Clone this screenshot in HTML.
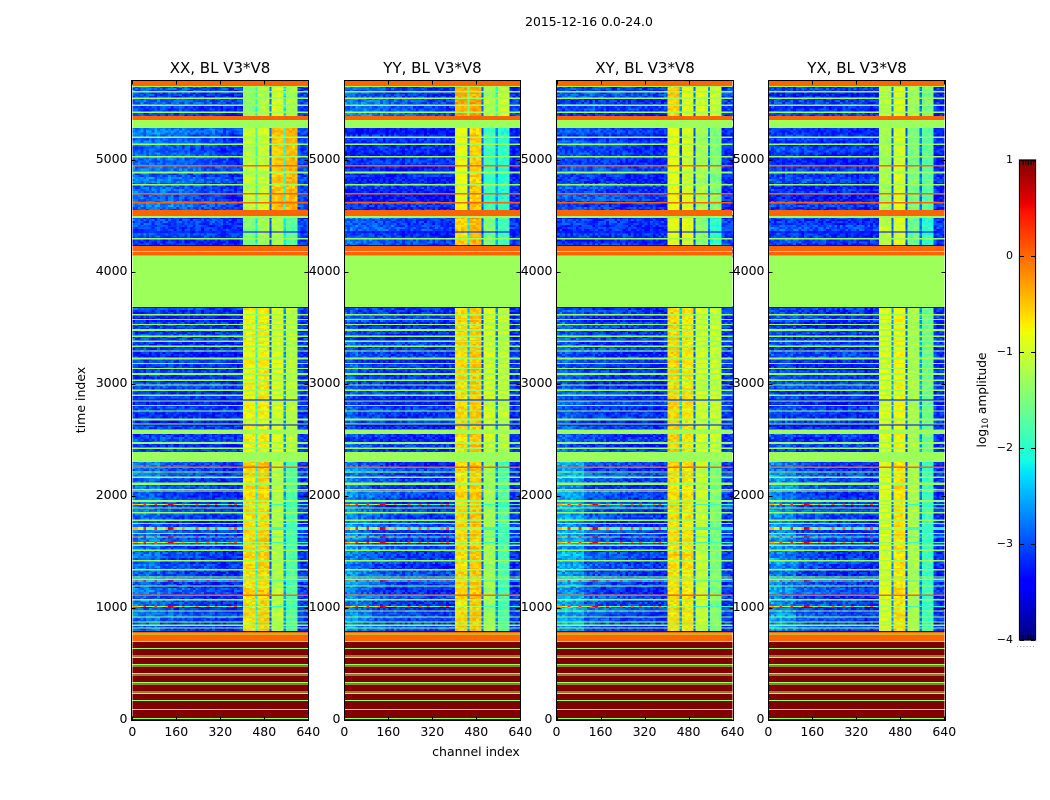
<!DOCTYPE html>
<html lang="en">
<head>
<meta charset="utf-8">
<title>2015-12-16 0.0-24.0 waterfall amplitude, BL V3*V8</title>
<style>
  html, body { margin: 0; padding: 0; background: #fff; }
  #figure { display: block; width: 1050px; height: 800px; font-family: "DejaVu Sans", "Liberation Sans", sans-serif; fill: #000; }
</style>
</head>
<body>
<svg id="figure" xmlns="http://www.w3.org/2000/svg" width="1050" height="800" viewBox="0 0 1050 800">
  <rect width="1050" height="800" fill="#fff"/>
  <text x="589" y="26" font-size="12.4" text-anchor="middle">2015-12-16 0.0-24.0</text>
  <text x="476" y="756" font-size="12.5" text-anchor="middle">channel index</text>
  <text transform="translate(85,400) rotate(-90)" font-size="12.5" text-anchor="middle">time index</text>
  <text transform="translate(986,400) rotate(-90)" font-size="12.2" text-anchor="middle">log<tspan font-size="8.5" dy="2">10</tspan><tspan dy="-2"> amplitude</tspan></text>
  <g id="panels"></g>
  <g id="colorbar"></g>
</svg>
<script>
// ---- Chart data (values are log10 amplitude; times are time index, channels are channel index) ----
const panelTitles = ["XX, BL V3*V8", "YY, BL V3*V8", "XY, BL V3*V8", "YX, BL V3*V8"];
const xTicks = [0, 160, 320, 480, 640];
const yTicks = [0, 1000, 2000, 3000, 4000, 5000];
const colorbarTicks = [1, 0, -1, -2, -3, -4];

// Time floor of each observing section, top to bottom.
const sectionFloors = [5356, 4481, 3686, 2305, 785];

// Low-channel levels, one value per 50 channels.
const leftXX = [
  [-2.95,-2.95,-3.0,-3.0,-3.05,-3.05,-3.1,-3.15],
  [-2.85,-2.85,-2.85,-2.9,-2.95,-3.0,-3.05,-3.15],
  [-3.05,-3.1,-3.1,-3.15,-3.15,-3.15,-3.15,-3.2],
  [-3.1,-3.1,-3.1,-3.15,-3.15,-3.15,-3.15,-3.2],
  [-2.85,-2.85,-3.0,-3.05,-3.1,-3.1,-3.15,-3.15]
];
const leftYY = [
  [-2.8,-2.85,-2.9,-2.95,-3.0,-3.05,-3.1,-3.15],
  [-3.2,-3.2,-3.2,-3.2,-3.2,-3.2,-3.2,-3.25],
  [-2.85,-2.9,-2.95,-3.0,-3.05,-3.05,-3.1,-3.15],
  [-2.95,-3.1,-3.1,-3.15,-3.15,-3.15,-3.15,-3.2],
  [-2.7,-2.85,-3.0,-3.05,-3.1,-3.1,-3.15,-3.15]
];
const leftXY = [
  [-3.05,-3.05,-3.05,-3.1,-3.1,-3.1,-3.15,-3.15],
  [-3.0,-3.0,-3.05,-3.05,-3.1,-3.15,-3.15,-3.2],
  [-3.15,-3.15,-3.15,-3.15,-3.15,-3.2,-3.2,-3.2],
  [-2.9,-3.0,-3.1,-3.1,-3.15,-3.15,-3.15,-3.2],
  [-2.55,-2.6,-2.95,-3.0,-3.05,-3.1,-3.1,-3.15]
];
const leftYX = [
  [-3.1,-3.1,-3.1,-3.1,-3.15,-3.15,-3.15,-3.2],
  [-3.1,-3.1,-3.1,-3.15,-3.15,-3.15,-3.2,-3.2],
  [-3.0,-3.0,-3.05,-3.05,-3.1,-3.1,-3.15,-3.15],
  [-3.05,-3.05,-3.1,-3.1,-3.15,-3.15,-3.15,-3.2],
  [-2.65,-2.75,-2.95,-3.0,-3.05,-3.1,-3.1,-3.15]
];

// Upper-channel strips: left edge of each strip, then its level per section.
const stripEdges = [403, 448, 456, 499, 506, 550, 558, 600, 640];
const stripXX = [
  [-1.4,-2.0,-1.15,-2.8,-0.95,-2.2,-1.25,-3.1],
  [-1.1,-1.9,-1.05,-2.9,-0.5,-2.0,-0.45,-3.05],
  [-1.5,-2.2,-1.3,-3.0,-1.2,-2.2,-1.75,-3.1],
  [-0.75,-2.0,-0.7,-2.9,-0.95,-2.6,-1.15,-3.15],
  [-0.6,-2.1,-0.55,-2.9,-1.15,-2.6,-1.8,-3.15]
];
const stripYY = [
  [-0.35,-1.5,-0.35,-2.9,-1.25,-2.0,-1.0,-3.1],
  [-0.85,-2.9,-0.55,-3.0,-1.9,-2.6,-2.0,-3.2],
  [-0.55,-2.2,-0.4,-2.9,-1.5,-2.6,-1.85,-3.1],
  [-0.6,-2.4,-0.5,-3.0,-1.0,-2.7,-1.1,-3.15],
  [-0.6,-2.6,-0.5,-2.9,-1.3,-2.7,-1.8,-3.15]
];
const stripXY = [
  [-0.55,-2.6,-0.9,-2.9,-1.0,-2.8,-1.05,-3.1],
  [-0.85,-3.0,-1.0,-3.0,-1.25,-2.8,-1.5,-3.2],
  [-0.9,-3.1,-0.95,-3.0,-1.4,-2.8,-2.0,-3.1],
  [-0.55,-2.4,-0.65,-2.9,-1.0,-2.6,-1.05,-3.15],
  [-0.6,-2.6,-0.65,-2.9,-1.05,-2.7,-1.5,-3.15]
];
const stripYX = [
  [-1.15,-2.7,-0.95,-3.0,-1.25,-2.8,-1.5,-3.2],
  [-1.25,-2.9,-1.0,-3.0,-1.5,-2.8,-1.7,-3.2],
  [-1.1,-2.9,-0.95,-3.0,-1.6,-2.8,-2.0,-3.1],
  [-0.95,-2.6,-0.8,-2.9,-1.2,-2.6,-1.6,-3.15],
  [-0.95,-2.7,-0.65,-3.0,-1.2,-2.8,-1.9,-3.15]
];

// Hand-estimated cell texture around the section levels.
const speckle = [0.12,-0.22,0.3,-0.08,-0.3,0.18,0.02,-0.16,0.26,-0.26,0.08,0.22,-0.12,-0.02,0.34,-0.2,0.14,-0.32,0.06,0.2,
                 -0.1,-0.28,0.28,0.0,-0.18,0.16,0.32,-0.24,0.04,-0.06,0.24,-0.3,0.1,-0.14,0.2,-0.04,-0.22,0.3,0.06,-0.12,0.18];
const rowShade = [0.05,-0.08,0.1,-0.05,-0.1,0.07,0.0,0.12,-0.08,0.04,-0.12,0.08,-0.02,0.06,-0.1,0.1,-0.06];

// Fully flagged time ranges: top, bottom, level.
const flagBandTop = [5710,5660,5392,5356,4553,4499,4231,4186,4177,4146,4897,3490,3237,3097,2693,2594,2484,2394,2121,1963,785,700];
const flagBandBottom = [5660,5651,5356,5285,4499,4481,4186,4177,4146,3686,4879,3472,3219,3079,2675,2552,2463,2305,2097,1948,700,0];
const flagBandLevel = [0.02,-1.3,0.02,-1.3,0.02,-1.3,0.02,-1.3,0.02,-1.3,-1.3,-1.3,-1.3,-1.3,-1.3,-1.3,-1.3,-1.3,-1.3,-1.3,0.02,1];

// Single-row flagged lines by level.
const greenLines = [5611,5553,5490,5428,5205,5142,5030,4780,4298,
  3621,3577,3532,3428,3383,3338,3296,3184,3139,3035,2993,2945,2901,2850,2809,2760,2642,2427,
  2216,2168,2059,1894,1853,1784,1755,1666,1561,1517,1424,1344,1278,1258,1198,1076,974,921,876,847,823];
const redZoneLines = [768,699,640,571,556,496,481,416,401,336,321,252,238,175,95,15];
const orangeLines = [4950,4700,4620,2258,1115];
const darkLines = [4356,4236,3685,2856,2633,788];
const yellowLines = [2043];

// Interference rows with hot low channels (one level per 10 channels, then the strips).
const hotRowTop = [1929,1722,1640,1590,1245,1019];
const hotRowBottom = [1920,1695,1631,1581,1236,1010];
const hotLeft = [-0.4,-0.4,-0.7,-1.0,0.3,-1.2,-1.3,-1.2,0.3,-1.3,
                 -1.3,-1.0,-0.3,0.6,0.5,-0.4,-1.3,-1.5,-0.2,-1.6,
                 -1.5,-1.6,-1.6,0.0,-1.6,-1.7,-1.7,0.0,-1.7,-1.7,
                 0.0,-1.8,-1.8,-1.8,-1.8,-0.2,-1.8,0.1,-1.8,-1.8];
const hotStrips = [-1.3,-1.3,-1.2,-2.2,-1.9,-2.0,-1.9,-2.0];

// ---- Scales ----
const SVG_NS = "http://www.w3.org/2000/svg";
const panelLeft = [132.3, 344.3, 556.5, 768.3];
const frameLeft = [131.5, 344.5, 556.5, 768.5];
const frameRight = [308.5, 520.5, 733.5, 945.5];
const leftSets = [leftXX, leftYY, leftXY, leftYX];
const stripSets = [stripXX, stripYY, stripXY, stripYX];
const xScaleFactor = 176 / 640;
function xAt(panel, channel) { return panelLeft[panel] + channel * xScaleFactor; }
function yAt(time) { return 720 - 0.112 * time; }

function lerpStops(t, xs, ys) {
  for (let i = 1; i < xs.length; i++) {
    if (t <= xs[i]) return ys[i - 1] + (ys[i] - ys[i - 1]) * (t - xs[i - 1]) / (xs[i] - xs[i - 1]);
  }
  return ys[ys.length - 1];
}
function colorFor(level) {
  const t = Math.max(0, Math.min(1, (level + 4) / 5));
  const r = lerpStops(t, [0, 0.35, 0.66, 0.89, 1], [0, 0, 1, 1, 0.5]);
  const g = lerpStops(t, [0, 0.125, 0.375, 0.64, 0.91, 1], [0, 0, 1, 1, 0, 0]);
  const b = lerpStops(t, [0, 0.11, 0.34, 0.65, 1], [0.5, 1, 1, 0, 0]);
  return "rgb(" + Math.round(r * 255) + "," + Math.round(g * 255) + "," + Math.round(b * 255) + ")";
}
function addRect(parent, x, y, w, h, fill) {
  const el = document.createElementNS(SVG_NS, "rect");
  el.setAttribute("x", x.toFixed(2));
  el.setAttribute("y", y.toFixed(2));
  el.setAttribute("width", w.toFixed(2));
  el.setAttribute("height", h.toFixed(2));
  el.setAttribute("fill", fill);
  
  
  parent.appendChild(el);
  return el;
}
function addLine(parent, x1, y1, x2, y2, name) {
  const el = document.createElementNS(SVG_NS, "line");
  el.setAttribute("x1", x1);
  el.setAttribute("y1", y1);
  el.setAttribute("x2", x2);
  el.setAttribute("y2", y2);
  el.setAttribute("stroke", "#000");
  el.setAttribute("stroke-width", "1");
  
  
  parent.appendChild(el);
}
function addText(parent, x, y, size, anchor, str, name) {
  const el = document.createElementNS(SVG_NS, "text");
  el.setAttribute("x", x);
  el.setAttribute("y", y);
  el.setAttribute("font-size", size);
  el.setAttribute("text-anchor", anchor);
  
  
  el.textContent = str;
  parent.appendChild(el);
}

function isFullyFlagged(top, bottom) {
  for (let i = 0; i < flagBandTop.length; i++) {
    if (top <= flagBandTop[i] && bottom >= flagBandBottom[i]) return true;
  }
  return false;
}
function sectionOf(time) {
  for (let i = 0; i < sectionFloors.length; i++) {
    if (time > sectionFloors[i]) return i;
  }
  return sectionFloors.length - 1;
}
function textureAt(r, c, p) {
  return speckle[(r * r * 3 + c * c * 7 + r * c * 5 + r + p * 19) % speckle.length];
}

function drawPanel(p) {
  const root = document.getElementById("panels");
  const g = document.createElementNS(SVG_NS, "g");
  
  
  root.appendChild(g);

  const cells = document.createElementNS(SVG_NS, "g");
  cells.setAttribute("shape-rendering", "crispEdges");
  
  
  g.appendChild(cells);

  const rowStep = 18, colStep = 10, stripStep = 11;
  let rowIndex = 0;
  for (let top = 5660; top > 785; top -= rowStep, rowIndex++) {
    const bottom = top - rowStep;
    if (isFullyFlagged(top, bottom)) continue;
    const s = sectionOf(top - rowStep / 2);
    const left = leftSets[p][s];
    const strips = stripSets[p][s];
    const shade = rowShade[(Math.floor(rowIndex / 3) + p * 3) % rowShade.length];
    const y = yAt(top), h = yAt(bottom) - y;
    let c = 0;
    for (let ch = 0; ch < stripEdges[0]; ch += colStep, c++) {
      const base = left[Math.min(7, Math.floor(ch / 50))];
      addRect(cells, xAt(p, ch), y, colStep * xScaleFactor + 0.3, h, colorFor(base + textureAt(rowIndex, c, p) * 0.8 + shade));
    }
    for (let k = 0; k < strips.length; k++) {
      const scale = k === 7 ? 0.8 : 0.5;
      for (let ch = stripEdges[k]; ch < stripEdges[k + 1]; ch += stripStep, c++) {
        const wChan = Math.min(stripStep, stripEdges[k + 1] - ch);
        addRect(cells, xAt(p, ch), y, wChan * xScaleFactor + 0.3, h, colorFor(strips[k] + textureAt(rowIndex, c, p) * scale + shade * 0.5));
      }
    }
  }

  // Hot interference rows
  for (let i = 0; i < hotRowTop.length; i++) {
    const y = yAt(hotRowTop[i]), h = yAt(hotRowBottom[i]) - y;
    for (let c = 0; c < hotLeft.length; c++) {
      addRect(cells, xAt(p, c * 10), y, 10 * xScaleFactor + 0.3, h, colorFor(hotLeft[c]));
    }
    for (let k = 0; k < hotStrips.length; k++) {
      const w = (stripEdges[k + 1] - stripEdges[k]) * xScaleFactor + 0.3;
      addRect(cells, xAt(p, stripEdges[k]), y, w, h, colorFor(hotStrips[k]));
    }
  }

  // Flagged ranges
  const fullWidth = 640 * xScaleFactor;
  for (let i = 0; i < flagBandTop.length; i++) {
    const y = yAt(flagBandTop[i]);
    addRect(cells, xAt(p, 0), y, fullWidth, yAt(flagBandBottom[i]) - y, colorFor(flagBandLevel[i]));
  }
  const lineHeight = 1.3, thinHeight = 1;
  greenLines.forEach(function (t) { addRect(cells, xAt(p, 0), yAt(t) - 0.5, fullWidth, lineHeight, colorFor(-1.3)); });
  redZoneLines.forEach(function (t) { addRect(cells, xAt(p, 0), yAt(t) - 0.5, fullWidth, thinHeight, colorFor(-1.3)); });
  orangeLines.forEach(function (t) { addRect(cells, xAt(p, 0), yAt(t) - 0.5, fullWidth, lineHeight, colorFor(0.02)); });
  darkLines.forEach(function (t) { addRect(cells, xAt(p, 0), yAt(t) - 0.5, fullWidth, thinHeight, colorFor(-3.4)); });
  yellowLines.forEach(function (t) { addRect(cells, xAt(p, 0), yAt(t) - 0.5, fullWidth, thinHeight, colorFor(-0.9)); });

  // Spines
  const sx0 = frameLeft[p], sx1 = frameRight[p];
  const frame = document.createElementNS(SVG_NS, "rect");
  frame.setAttribute("x", sx0);
  frame.setAttribute("y", 80.5);
  frame.setAttribute("width", sx1 - sx0);
  frame.setAttribute("height", 640);
  frame.setAttribute("fill", "none");
  frame.setAttribute("stroke", "#000");
  frame.setAttribute("stroke-width", "1");
  
  
  g.appendChild(frame);

  // X ticks and labels
  xTicks.forEach(function (v) {
    const x = Math.round(xAt(p, v)) + 0.5;
    addLine(g, x, 720.5, x, 716.5, "x-tick");
    addLine(g, x, 80.5, x, 84.5, "x-tick-top");
    addText(g, xAt(p, v), 736, 12.5, "middle", String(v), "x-tick-label");
  });
  // Y ticks and labels
  yTicks.forEach(function (v) {
    const y = Math.round(yAt(v)) + 0.5;
    addLine(g, sx0, y, sx0 + 4, y, "y-tick");
    addLine(g, sx1, y, sx1 - 4, y, "y-tick-right");
    addText(g, sx0 - 4, yAt(v) + 3, 12.5, "end", String(v), "y-tick-label");
  });
  addText(g, (sx0 + sx1) / 2, 73, 15, "middle", panelTitles[p], "panel-title");
}

function drawColorbar() {
  const g = document.getElementById("colorbar");
  const barLeft = 1020, barWidth = 15, barTop = 160, barBottom = 640;
  const yOf = function (v) { return barTop + (1 - v) * (barBottom - barTop) / 5; };

  const halo = document.createElementNS(SVG_NS, "rect");
  halo.setAttribute("x", barLeft - 1.5);
  halo.setAttribute("y", barTop - 1);
  halo.setAttribute("width", barWidth + 3);
  halo.setAttribute("height", barBottom - barTop + 2);
  halo.setAttribute("fill", "#c4c4c4");
  
  
  g.appendChild(halo);

  const strip = document.createElementNS(SVG_NS, "g");
  strip.setAttribute("shape-rendering", "crispEdges");
  
  
  g.appendChild(strip);
  for (let y = barTop; y < barBottom; y += 2) {
    const level = 1 - (y + 1 - barTop) * 5 / (barBottom - barTop);
    const r = addRect(strip, barLeft, y, barWidth, 2, colorFor(level));
    
  }

  const frame = document.createElementNS(SVG_NS, "rect");
  frame.setAttribute("x", barLeft - 0.5);
  frame.setAttribute("y", barTop);
  frame.setAttribute("width", barWidth + 1);
  frame.setAttribute("height", barBottom - barTop);
  frame.setAttribute("fill", "none");
  frame.setAttribute("stroke", "#000");
  frame.setAttribute("stroke-width", "1");
  
  
  g.appendChild(frame);

  colorbarTicks.forEach(function (v) {
    const y = Math.round(yOf(v)) + 0.5;
    addLine(g, barLeft, y, barLeft + 4, y, "colorbar-tick");
    addLine(g, barLeft + barWidth, y, barLeft + barWidth - 4, y, "colorbar-tick-right");
    addText(g, 1013, yOf(v) + 3, 11, "end", (v < 0 ? "\u2212" : "") + Math.abs(v), "colorbar-tick-label");
  });
  for (let i = 1; i <= 5; i++) {
    const x = barLeft + i * 2.6 + 0.5;
    addLine(g, x, barTop, x, barTop + 5, "colorbar-top-minor-tick");
    addLine(g, x, barBottom, x, barBottom - 5, "colorbar-bottom-minor-tick");
  }
  for (let i = 0; i < 6; i++) {
    const dot = document.createElementNS(SVG_NS, "rect");
    dot.setAttribute("x", 1017 + i * 3.2);
    dot.setAttribute("y", 646);
    dot.setAttribute("width", 1);
    dot.setAttribute("height", 1);
    dot.setAttribute("fill", "#999");
    
    
    g.appendChild(dot);
  }
}

panelTitles.forEach(function (_, p) { drawPanel(p); });
drawColorbar();
</script>
</body>
</html>
